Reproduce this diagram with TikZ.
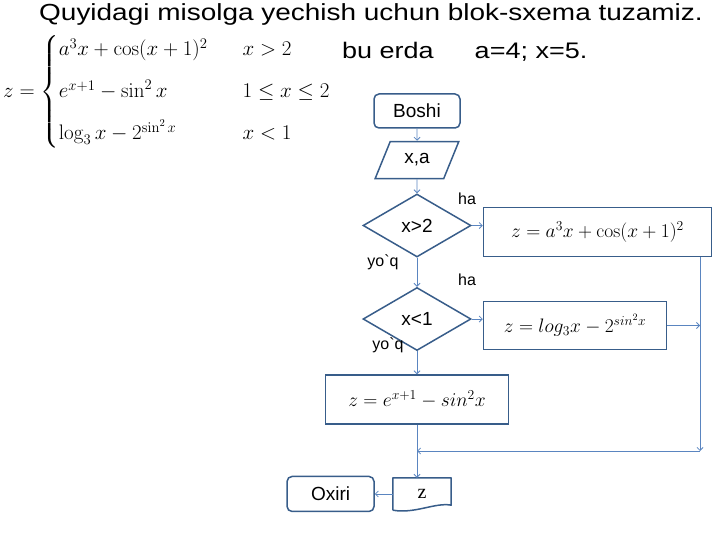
\IfFileExists{fix-cm.sty}{\RequirePackage{fix-cm}}{}
\documentclass[tikz,border=0pt]{standalone}
\usepackage{amsmath}
\usepackage[no-math]{fontspec}
\setmainfont{Liberation Sans}
\newfontfamily\widefont[FakeStretch=1.2]{Liberation Sans}
\newfontfamily\plainface[Ligatures=TeXOff]{Liberation Sans}
\newfontfamily\serifface{Liberation Serif}
\usetikzlibrary{shapes.geometric, arrows.meta, positioning}
\definecolor{frame}{HTML}{385D8A}
\definecolor{link}{HTML}{5A85C0}

\begin{document}
\begin{tikzpicture}[x=1pt, y=1pt,
  block/.style={rectangle, draw=frame, line width=1.5pt, fill=white, align=center, inner sep=2pt},
  term/.style={block, rounded corners=5pt, minimum width=86pt, minimum height=34pt, font=\fontsize{19}{22}\selectfont},
  io/.style={trapezium, trapezium left angle=65, trapezium right angle=115, trapezium stretches=true, draw=frame, line width=1.5pt, minimum width=84pt, minimum height=37pt, font=\fontsize{19}{22}\selectfont},
  test/.style={diamond, draw=frame, line width=1.5pt, minimum width=108pt, minimum height=63pt, inner sep=0pt, font=\fontsize{19}{22}\selectfont},
  calc/.style={block, minimum height=49pt, font=\fontsize{19.5}{22}\selectfont},
  arrow/.style={-{Straight Barb[length=3pt, width=6pt]}, link, line width=0.8pt},
  tag/.style={font=\plainface\fontsize{16}{18}\selectfont, inner sep=0pt}
]
  \useasboundingbox (0,0) rectangle (720,-540);

  % heading and the function
  \node[font=\widefont\fontsize{23.3}{26}\selectfont] (title) at (371,-14) {Quyidagi misolga yechish uchun blok-sxema tuzamiz.};
  \node[anchor=west, font=\fontsize{21}{25}\selectfont, inner sep=0pt] (func) at (3,-92)
    {$z=\begin{cases} a^3x+\cos(x+1)^2 & \hspace{14pt} x>2\\[12pt] e^{x+1}-\sin^2x & \hspace{14pt} 1\le x\le 2\\[12pt] \log_3 x-2^{\sin^2x} & \hspace{14pt} x<1\end{cases}$};
  \node[anchor=west, font=\widefont\fontsize{22.5}{26}\selectfont, inner sep=0pt] (given) at (342,-52) {bu erda\hspace{41pt}a=4; x=5.};

  % main column
  \node[term] (start) at (417,-111) {Boshi};
  \node[io, below=12pt of start] (inp) {x,a};
  \node[test, below=14pt of inp] (c1) {x>2};
  \node[test, below=29pt of c1] (c2) {x<1};
  \node[calc, minimum width=183pt, below=23pt of c2] (f3) {$z=e^{x+1}-sin^2x$};
  \node[inner sep=0pt, minimum width=58pt, minimum height=32pt, font=\serifface\fontsize{20}{22}\selectfont, below=53pt of f3, xshift=5pt] (out) {z};
  \node[term, minimum width=87pt, minimum height=35pt, left=18pt of out] (stop) {Oxiri};

  % side branches
  \node[calc, minimum width=228pt, right=11pt of c1, yshift=-6.5pt] (f1) {$z=a^3x+\cos(x+1)^2$};
  \node[calc, minimum width=183pt, minimum height=48pt, right=11pt of c2, yshift=-6.5pt] (f2) {$z=log_3x-2^{sin^2x}$};

  % output sheet with wavy foot
  \draw[frame, line width=1.5pt, line join=round] (out.south west) -- (out.north west) -- (out.north east) -- ([yshift=5pt]out.south east)
    .. controls ([xshift=-16pt, yshift=8pt]out.south east) and ([xshift=22pt, yshift=-4pt]out.south west) .. (out.south west);

  \coordinate (rj) at (700,-451);
  \coordinate (mj) at (417,-451);

  \node[tag] (ha1) at (467,-199) {ha};
  \node[tag] (ha2) at (467,-280) {ha};
  \node[tag] (no1) at (383,-262) {yo`q};
  \node[tag] (no2) at (388,-345) {yo`q};

  \draw[arrow] (start) -- (inp);
  \draw[arrow] (inp) -- (c1);
  \draw[arrow] (c1) -- (c2);
  \draw[arrow] (c2) -- (f3);
  \draw[arrow] (c1.east) -- (c1.east -| f1.west);
  \draw[arrow] (c2.east) -- (c2.east -| f2.west);
  \draw[arrow] (f1.south -| rj) -- (rj);
  \draw[arrow] (f2.east) -- (f2.east -| rj);
  \draw[arrow] (rj) -- (mj);
  \draw[arrow] (f3.south) -- (f3.south |- out.north);
  \draw[arrow] (out.west) -- (stop.east);
\end{tikzpicture}
\end{document}
